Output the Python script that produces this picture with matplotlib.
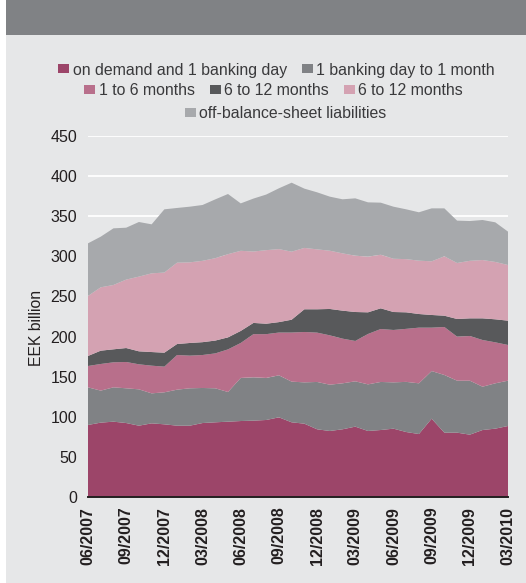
import matplotlib.pyplot as plt
from matplotlib.patches import Patch, Rectangle

plt.rcParams['font.family'] = ['Liberation Sans', 'DejaVu Sans']

# Monthly liabilities by maturity, EEK billion, 06/2007 - 03/2010
on_demand = [89.8, 92.7, 93.9, 92.2, 88.9, 91.8, 90.6, 88.9, 88.9, 92.2, 93.1, 93.9,
             94.7, 95.2, 96.0, 99.3, 93.1, 91.4, 84.4, 82.3, 84.4, 87.7, 82.3, 83.5,
             85.2, 81.0, 78.5, 97.6, 80.2, 80.2, 77.7, 83.5, 85.2, 88.5]
to_1_month = [46.9, 39.9, 42.8, 43.3, 45.3, 37.4, 39.9, 44.9, 46.6, 43.7, 42.4, 37.0,
              53.7, 54.0, 52.4, 52.4, 50.7, 51.5, 59.0, 57.7, 57.3, 56.5, 58.1, 59.9,
              57.7, 62.5, 63.2, 59.4, 71.9, 64.8, 67.3, 54.0, 56.5, 56.5]
to_6_months = [26.6, 33.2, 31.2, 32.8, 31.2, 34.5, 32.0, 43.2, 40.7, 41.1, 43.5, 53.1,
               43.6, 53.8, 54.6, 53.3, 61.2, 62.8, 61.5, 61.5, 55.7, 50.3, 62.8, 66.0,
               65.3, 66.1, 69.4, 54.1, 59.8, 54.9, 55.7, 58.2, 51.1, 44.5]
to_12_months_a = [12.5, 16.6, 16.2, 17.4, 16.2, 17.0, 17.4, 13.7, 15.8, 16.0, 16.0, 15.0,
                  15.0, 14.0, 13.0, 13.0, 16.0, 28.3, 29.1, 32.9, 34.9, 36.1, 27.0, 25.8,
                  22.4, 20.6, 17.0, 15.8, 14.1, 22.0, 22.0, 27.0, 28.7, 30.3]
to_12_months_b = [74.8, 79.0, 80.2, 85.3, 93.1, 98.1, 99.9, 101.4, 100.5, 101.4, 102.7, 103.7,
                  99.9, 89.0, 91.7, 91.0, 84.8, 76.5, 74.7, 72.6, 71.4, 70.2, 69.4, 66.8,
                  66.4, 66.3, 66.5, 66.9, 74.0, 69.8, 71.7, 72.7, 71.5, 69.4]
off_balance = [65.6, 63.1, 70.6, 64.7, 68.1, 61.1, 78.8, 68.2, 69.4, 69.6, 73.3, 75.0,
               59.1, 66.0, 69.3, 75.8, 86.0, 73.9, 71.1, 67.4, 67.4, 71.5, 67.7, 64.9,
               64.9, 62.1, 60.3, 66.0, 59.8, 52.8, 49.6, 49.9, 49.4, 41.6]

labels = ['on demand and 1 banking day', '1 banking day to 1 month', '1 to 6 months',
          '6 to 12 months', '6 to 12 months', 'off-balance-sheet liabilities']
colors = ['#9c4569', '#808285', '#b86f8b', '#58595b', '#d4a2b2', '#a7a9ac']
tick_labels = ['06/2007', '09/2007', '12/2007', '03/2008', '06/2008', '09/2008',
               '12/2008', '03/2009', '06/2009', '09/2009', '12/2009', '03/2010']

W, H = 526, 583
fig = plt.figure(figsize=(W / 100, H / 100), dpi=100, facecolor='white')

# panel background and header band
fig.patches.append(Rectangle((6 / W, 0), 1, 1, transform=fig.transFigure,
                             facecolor='#e6e7e8', edgecolor='none', zorder=-2))
fig.patches.append(Rectangle((6 / W, 1 - 35 / H), 1, 35 / H, transform=fig.transFigure,
                             facecolor='#808285', edgecolor='none', zorder=-1))

ax = fig.add_axes([88 / W, (H - 497) / H, 420 / W, 361 / H])
ax.set_facecolor('none')

months = list(range(len(on_demand)))
ax.stackplot(months, on_demand, to_1_month, to_6_months, to_12_months_a,
             to_12_months_b, off_balance, colors=colors, linewidth=0, zorder=2)

ax.set_xlim(0, len(months) - 1)
ax.set_ylim(0, 450)
ax.set_yticks(range(0, 451, 50))
ax.set_xticks(months[::3])
ax.set_xticklabels(tick_labels, rotation=90, fontweight='bold')
ax.grid(axis='y', color='white', linewidth=1.3, zorder=1)
ax.set_axisbelow(True)

for side in ['top', 'right', 'left']:
    ax.spines[side].set_visible(False)
ax.spines['bottom'].set_color('#231f20')
ax.spines['bottom'].set_linewidth(1.4)
ax.spines['bottom'].set_zorder(3)
ax.tick_params(axis='both', length=0, labelsize=11.5, colors='#231f20')
ax.tick_params(axis='y', pad=8)
ax.tick_params(axis='x', pad=7)

fig.text(36.5 / W, 1 - 328 / H, 'EEK billion', rotation=90, ha='center', va='center',
         fontsize=11.3, color='#231f20')

# legend split into three centred rows
handles = [Patch(facecolor=c, edgecolor='none') for c in colors]
rows = [([0, 1], 276.5, 70), ([2, 3, 4], 273.5, 91), ([5], 285.5, 114)]
for idx, cx, cy in rows:
    leg = fig.legend([handles[i] for i in idx], [labels[i] for i in idx],
                     loc='center', bbox_to_anchor=(cx / W, 1 - cy / H), ncol=len(idx),
                     frameon=False, fontsize=11.4, handlelength=0.7, handleheight=0.5,
                     handletextpad=0.2, columnspacing=0.95, borderpad=0, borderaxespad=0)
    for t in leg.get_texts():
        t.set_color('#3a3a3c')

fig.savefig('out.png', dpi=100, facecolor=fig.get_facecolor())
